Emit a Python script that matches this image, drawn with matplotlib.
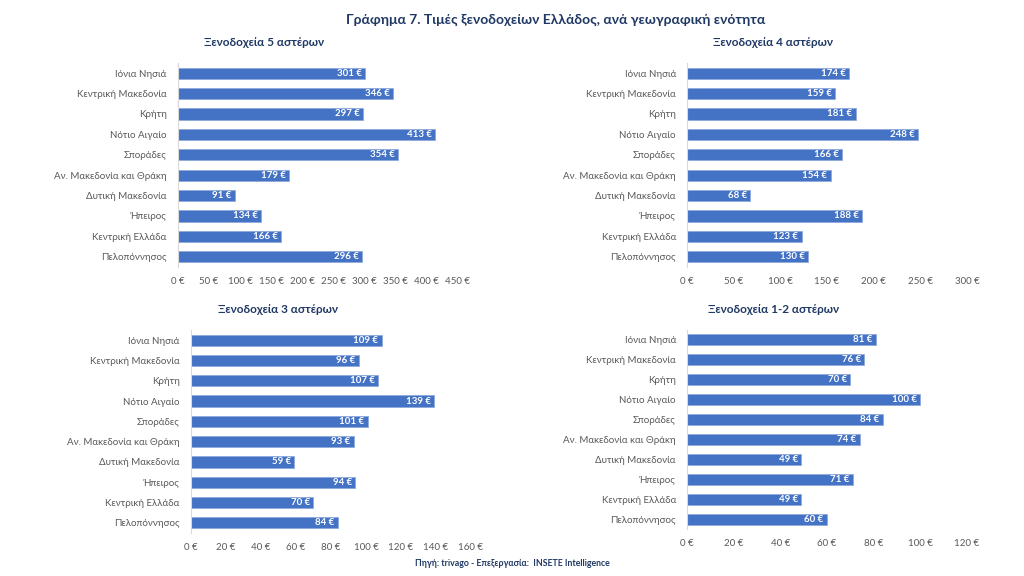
import matplotlib.pyplot as plt

plt.rcParams['font.family'] = ['Lato', 'DejaVu Sans']

regions = ['Ιόνια Νησιά', 'Κεντρική Μακεδονία', 'Κρήτη', 'Νότιο Αιγαίο', 'Σποράδες',
           'Αν. Μακεδονία και Θράκη', 'Δυτική Μακεδονία', 'Ήπειρος', 'Κεντρική Ελλάδα',
           'Πελοπόννησος']

stars5 = [301, 346, 297, 413, 354, 179, 91, 134, 166, 296]
stars4 = [174, 159, 181, 248, 166, 154, 68, 188, 123, 130]
stars3 = [109, 96, 107, 139, 101, 93, 59, 94, 70, 84]
stars12 = [81, 76, 70, 100, 84, 74, 49, 71, 49, 60]

titles = ['Ξενοδοχεία 5 αστέρων', 'Ξενοδοχεία 4 αστέρων',
          'Ξενοδοχεία 3 αστέρων', 'Ξενοδοχεία 1-2 αστέρων']
xmax = [450, 300, 160, 120]
xstep = [50, 50, 20, 20]

bar_color = '#4472C4'
text_color = '#595959'
title_color = '#1F3864'

fig = plt.figure(figsize=(10.24, 5.76), dpi=100)
fig.patch.set_facecolor('white')

# axes boxes in figure fractions: left, bottom, width, height
boxes = [
    [0.1738, 0.5365, 0.2734, 0.3542],
    [0.6709, 0.5365, 0.2734, 0.3542],
    [0.1865, 0.0747, 0.2734, 0.3524],
    [0.6709, 0.0816, 0.2734, 0.3455],
]
# subtitle centres (figure fractions)
title_pos = [(0.258, 0.927), (0.755, 0.927), (0.271, 0.463), (0.755, 0.463)]

for data, title, xm, st, box, tp in zip([stars5, stars4, stars3, stars12], titles,
                                        xmax, xstep, boxes, title_pos):
    ax = fig.add_axes(box)
    y = list(range(len(regions)))
    ax.barh(y, data, height=0.55, color=bar_color, edgecolor='#8FAADC', linewidth=0.6)
    ax.set_ylim(len(regions) - 0.5, -0.5)
    ax.set_xlim(0, xm)
    ax.set_yticks(y)
    ax.set_yticklabels(regions, fontsize=7, color=text_color)
    ticks = list(range(0, xm + 1, st))
    ax.set_xticks(ticks)
    ax.set_xticklabels([f'{t} €' for t in ticks], fontsize=7, color=text_color)
    ax.tick_params(axis='both', length=0)
    ax.tick_params(axis='y', pad=8)
    ax.tick_params(axis='x', pad=7)
    for s in ['top', 'right', 'bottom']:
        ax.spines[s].set_visible(False)
    ax.spines['left'].set_color('#D9D9D9')
    ax.spines['left'].set_linewidth(0.8)
    for yi, v in zip(y, data):
        ax.text(v - xm * 0.012, yi, f'{v} €', ha='right', va='center',
                fontsize=7, color='white', fontweight='bold')
    fig.text(tp[0], tp[1], title, ha='center', va='center', fontsize=8.5,
             fontweight='bold', color=title_color)

fig.text(0.543, 0.965, 'Γράφημα 7. Τιμές ξενοδοχείων Ελλάδος, ανά γεωγραφική ενότητα',
         ha='center', va='center', fontsize=10, fontweight='bold', color=title_color)
fig.text(0.5, 0.022, 'Πηγή: trivago - Επεξεργασία:  INSETE Intelligence',
         ha='center', va='center', fontsize=6.3, fontweight='bold', color=title_color)

fig.savefig('out.png', dpi=100)
